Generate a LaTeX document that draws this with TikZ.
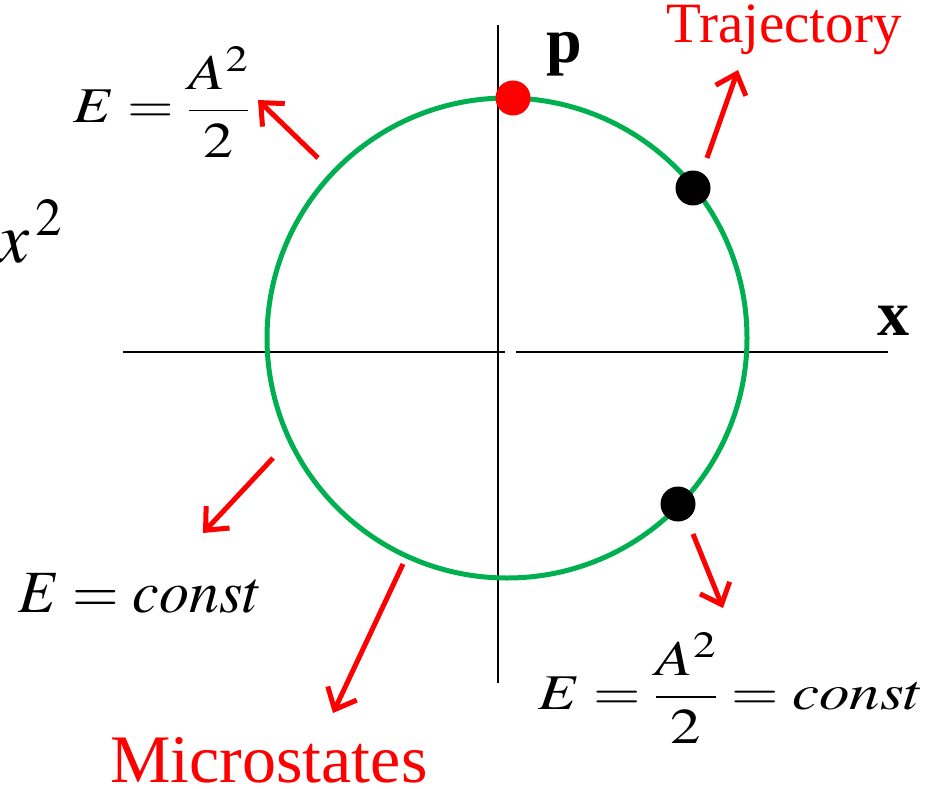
\documentclass[tikz,border=0pt]{standalone}
\usepackage{mathptmx}
\usepackage{fontspec}
\setmainfont{Liberation Serif}
\usepackage{graphicx}
\usetikzlibrary{arrows.meta}
\definecolor{orbitgreen}{RGB}{0,176,80}

\begin{document}
\begin{tikzpicture}[
        x=1pt, y=-1pt,
        axis_line/.style={black, line width=2pt},
        orbit_line/.style={orbitgreen, line width=5pt},
        state_dot/.style={circle, fill=black, minimum size=35pt, inner sep=0pt},
        label_arrow/.style={red, line width=5pt, -{Straight Barb[length=18pt, width=32pt]}},
        formula/.style={inner sep=0pt, anchor=base west}
    ]
    \useasboundingbox (0,0) rectangle (929,789);

    % Phase-plane axes (small gap at the origin)
    \draw[axis_line] (123,352) -- (505,352);
    \draw[axis_line] (516,352) -- (888,352);
    \draw[axis_line] (498,25) -- (498,683);

    % Trajectory of constant energy
    \draw[orbit_line] (507,338) circle [radius=240];

    % Microstates on the trajectory
    \node[state_dot, fill=red] (p_dot) at (513,98) {};
    \node[state_dot] (state_upper) at (693,188) {};
    \node[state_dot] (state_lower) at (678,504) {};

    % Axis labels
    \node[formula, font=\fontsize{64}{70}\selectfont\bfseries] (p_label) at (546,63) {p};
    \node[formula, font=\fontsize{64}{70}\selectfont\bfseries] (x_label) at (877,335) {x};
    \node[formula, font=\fontsize{72}{80}\selectfont] (x_squared) at (-3,262) {$x^{\,2}$};

    % Formulas and red captions
    \node[formula, font=\fontsize{50}{60}\selectfont] (energy_top) at (73,123)
        {\scalebox{1.2}[1]{$E=\displaystyle\frac{A^{2}}{2}$}};
    \node[formula, font=\fontsize{50}{60}\selectfont] (energy_right) at (538,709)
        {\scalebox{1.22}[1]{$E=\displaystyle\frac{A^{2}}{2}=const$}};
    \node[formula, font=\fontsize{60}{70}\selectfont] (energy_left) at (18,612) {$E=const$};
    \node[formula, text=red, font=\fontsize{57}{60}\selectfont] (trajectory) at (666,43) {Trajectory};
    \node[formula, text=red, font=\fontsize{68}{72}\selectfont] (microstates) at (110,782) {Microstates};

    % Arrow ends
    \coordinate (tail_topleft) at (318,158);
    \coordinate (tip_topleft) at (258,100);
    \coordinate (tail_traj) at (707,158);
    \coordinate (tip_traj) at (738,70);
    \coordinate (tail_left) at (273,458);
    \coordinate (tip_left) at (203,533);
    \coordinate (tail_micro) at (403,564);
    \coordinate (tip_micro) at (333,713);
    \coordinate (tail_right) at (693,534);
    \coordinate (tip_right) at (723,608);

    % Red arrows towards the labels
    \draw[label_arrow] (tail_topleft) -- (tip_topleft);
    \draw[label_arrow] (tail_traj) -- (tip_traj);
    \draw[label_arrow] (tail_left) -- (tip_left);
    \draw[label_arrow] (tail_micro) -- (tip_micro);
    \draw[label_arrow] (tail_right) -- (tip_right);

\end{tikzpicture}
\end{document}
